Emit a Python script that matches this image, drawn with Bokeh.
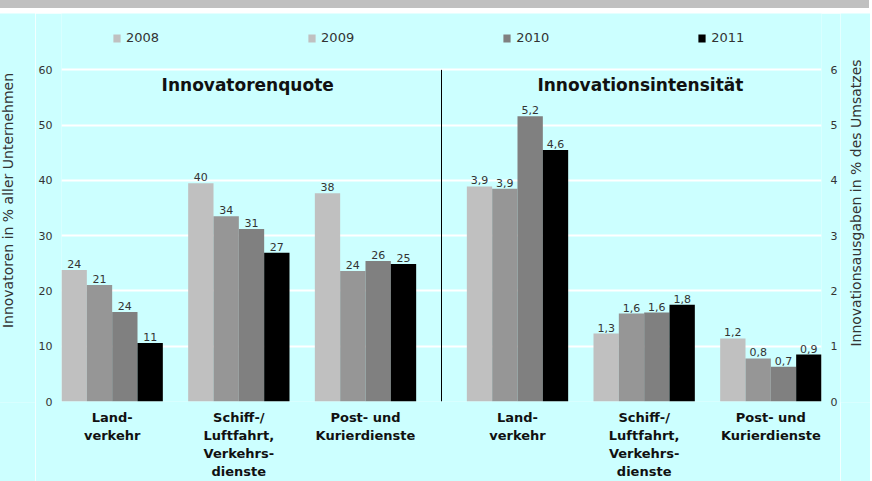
import math
from bokeh.plotting import figure
from bokeh.models import (ColumnDataSource, Range1d, LinearAxis, FixedTicker,
                          Legend, LegendItem, Label, Div)
from bokeh.layouts import column, row
from bokeh.core.properties import value
from bokeh.embed import file_html
from bokeh.resources import INLINE

# ---------------- data ----------------
years = ["2008", "2009", "2010", "2011"]
categories = ["Land-\nverkehr", "Schiff-/\nLuftfahrt,\nVerkehrs-\ndienste", "Post- und\nKurierdienste"]
panel_titles = ["Innovatorenquote", "Innovationsintensität"]
y_left_title = "Innovatoren in % aller Unternehmen"
y_right_title = "Innovationsausgaben in % des Umsatzes"
left_ticks = [0, 10, 20, 30, 40, 50, 60]
right_ticks = [0, 1, 2, 3, 4, 5, 6]

# Innovatorenquote (left axis), bar heights and printed labels
quote_2008 = [23.8, 39.5, 37.7]
quote_2009 = [21.1, 33.5, 23.6]
quote_2010 = [16.2, 31.2, 25.4]
quote_2011 = [10.6, 26.9, 24.9]
quote_lbl_2008 = ["24", "40", "38"]
quote_lbl_2009 = ["21", "34", "24"]
quote_lbl_2010 = ["24", "31", "26"]
quote_lbl_2011 = ["11", "27", "25"]

# Innovationsintensität (right axis)
inten_2008 = [3.89, 1.23, 1.14]
inten_2009 = [3.85, 1.59, 0.78]
inten_2010 = [5.16, 1.61, 0.63]
inten_2011 = [4.55, 1.75, 0.85]
inten_lbl_2008 = ["3,9", "1,3", "1,2"]
inten_lbl_2009 = ["3,9", "1,6", "0,8"]
inten_lbl_2010 = ["5,2", "1,6", "0,7"]
inten_lbl_2011 = ["4,6", "1,8", "0,9"]

# ---------------- styling ----------------
FONT = "DejaVu Sans"
BG = "#ccffff"
bar_colors = ["#c0c0c0", "#969696", "#808080", "#000000"]
legend_colors = ["#c0c0c0", "#c0c0c0", "#808080", "#000000"]
TXT = "#333333"

quote_vals = [quote_2008, quote_2009, quote_2010, quote_2011]
quote_lbls = [quote_lbl_2008, quote_lbl_2009, quote_lbl_2010, quote_lbl_2011]
inten_vals = [inten_2008, inten_2009, inten_2010, inten_2011]
inten_lbls = [inten_lbl_2008, inten_lbl_2009, inten_lbl_2010, inten_lbl_2011]

GROUP_STEP = 5          # 4 bars + 1 gap (in bar widths)
RIGHT_START = 16        # right panel begins after divider
DIVIDER = 15
X_END = 30

p = figure(frame_width=760, frame_height=388, x_range=Range1d(0, X_END), y_range=Range1d(0, 70.2),
           output_backend="svg", toolbar_location=None, min_border=0)
p.extra_y_ranges = {"r": Range1d(0, 7.02)}
p.background_fill_color = BG
p.border_fill_color = BG
p.outline_line_color = None
p.xgrid.visible = False
p.ygrid.ticker = FixedTicker(ticks=left_ticks)
p.ygrid.grid_line_color = "white"
p.ygrid.grid_line_width = 2

ya = p.yaxis[0]
ya.ticker = FixedTicker(ticks=left_ticks)
ra = LinearAxis(y_range_name="r", ticker=FixedTicker(ticks=right_ticks))
p.add_layout(ra, "right")
for ax in (ya, ra):
    ax.axis_line_color = None
    ax.major_tick_line_color = None
    ax.minor_tick_line_color = None
    ax.major_tick_out = 0
    ax.major_tick_in = 0
    ax.minor_tick_out = 0
    ax.axis_label_standoff = 0
    ax.major_label_text_font = FONT
    ax.major_label_text_font_size = "11px"
    ax.major_label_text_color = TXT
    ax.major_label_standoff = 9

# x axis with category labels
centers = [g * GROUP_STEP + 2 for g in range(3)] + [RIGHT_START + g * GROUP_STEP + 2 for g in range(3)]
xa = p.xaxis[0]
xa.ticker = FixedTicker(ticks=centers)
xa.major_label_overrides = {c: categories[i % 3] for i, c in enumerate(centers)}
xa.axis_line_color = None
xa.major_tick_line_color = None
xa.minor_tick_line_color = None
xa.major_tick_out = 0
xa.major_tick_in = 0
xa.minor_tick_out = 0
xa.axis_label_standoff = 0
xa.major_label_text_font = FONT
xa.major_label_text_font_size = "13px"
xa.major_label_text_font_style = "bold"
xa.major_label_text_color = "#111111"
xa.major_label_text_line_height = 1.22
xa.major_label_standoff = 8

# bars + value labels
legend_sources = []
for j, yr in enumerate(years):
    lx = [g * GROUP_STEP + j + 0.5 for g in range(3)]
    rx = [RIGHT_START + g * GROUP_STEP + j + 0.5 for g in range(3)]
    ls = ColumnDataSource(dict(x=lx, top=quote_vals[j], label=quote_lbls[j]))
    rs = ColumnDataSource(dict(x=rx, top=inten_vals[j], label=inten_lbls[j]))
    legend_sources.append(ls)
    p.vbar(x="x", top="top", width=1, source=ls, fill_color=bar_colors[j], line_color=None)
    p.vbar(x="x", top="top", width=1, source=rs, fill_color=bar_colors[j], line_color=None,
           y_range_name="r")
    p.text(x="x", y="top", text="label", source=ls, text_align="center", text_baseline="bottom",
           y_offset=-2, text_font=value(FONT), text_font_size="11px", text_color=TXT)
    p.text(x="x", y="top", text="label", source=rs, text_align="center", text_baseline="bottom",
           y_offset=-2, text_font=value(FONT), text_font_size="11px", text_color=TXT,
           y_range_name="r")

# divider
p.segment(x0=[DIVIDER], y0=[0], x1=[DIVIDER], y1=[left_ticks[-1]], line_color="black", line_width=1)

# panel titles
for tx, t in zip([7.35, 22.85], panel_titles):
    p.add_layout(Label(x=tx, y=57.2, text=t, text_align="center", text_baseline="middle",
                       text_font=FONT, text_font_size="17px", text_font_style="bold",
                       text_color="#111111"))

# legend (hidden renderers carrying legend swatch colours)
items = []
for yr, c, src in zip(years, legend_colors, legend_sources):
    r = p.vbar(x="x", top="top", width=1, source=src, fill_color=c, line_color=None, visible=False)
    items.append(LegendItem(label=yr, renderers=[r]))
leg = Legend(items=items, orientation="horizontal", location=(51, 356),
             glyph_width=9, glyph_height=10, label_standoff=5, spacing=148,
             padding=0, margin=0, border_line_color=None, background_fill_alpha=0,
             label_text_font=FONT, label_text_font_size="13px", label_text_color=TXT)
p.add_layout(leg)


# side strips carrying the two axis titles (both read bottom-to-top)
def title_strip(w, cx, cy, text):
    f = figure(width=w, height=470, x_range=Range1d(0, w), y_range=Range1d(0, 470),
               x_axis_location=None, y_axis_location=None, toolbar_location=None,
               output_backend="svg", min_border=0)
    f.background_fill_color = BG
    f.border_fill_color = BG
    f.outline_line_color = None
    f.grid.visible = False
    f.add_layout(Label(x=cx, y=cy, angle=math.pi / 2, text=text, text_align="center",
                       text_baseline="middle", text_font=FONT, text_font_size="14px",
                       text_color=TXT))
    return f


left_strip = title_strip(43, 15, 244, y_left_title)
right_strip = title_strip(30, 15, 241, y_right_title)

band = Div(width=872, height=11, styles={"background-color": "#c0c0c0"})
layout = column(band, row(left_strip, p, right_strip, spacing=0), spacing=0)
layout.styles = {"margin": "-8px"}

open("out.html", "w").write(file_html(layout, INLINE))
